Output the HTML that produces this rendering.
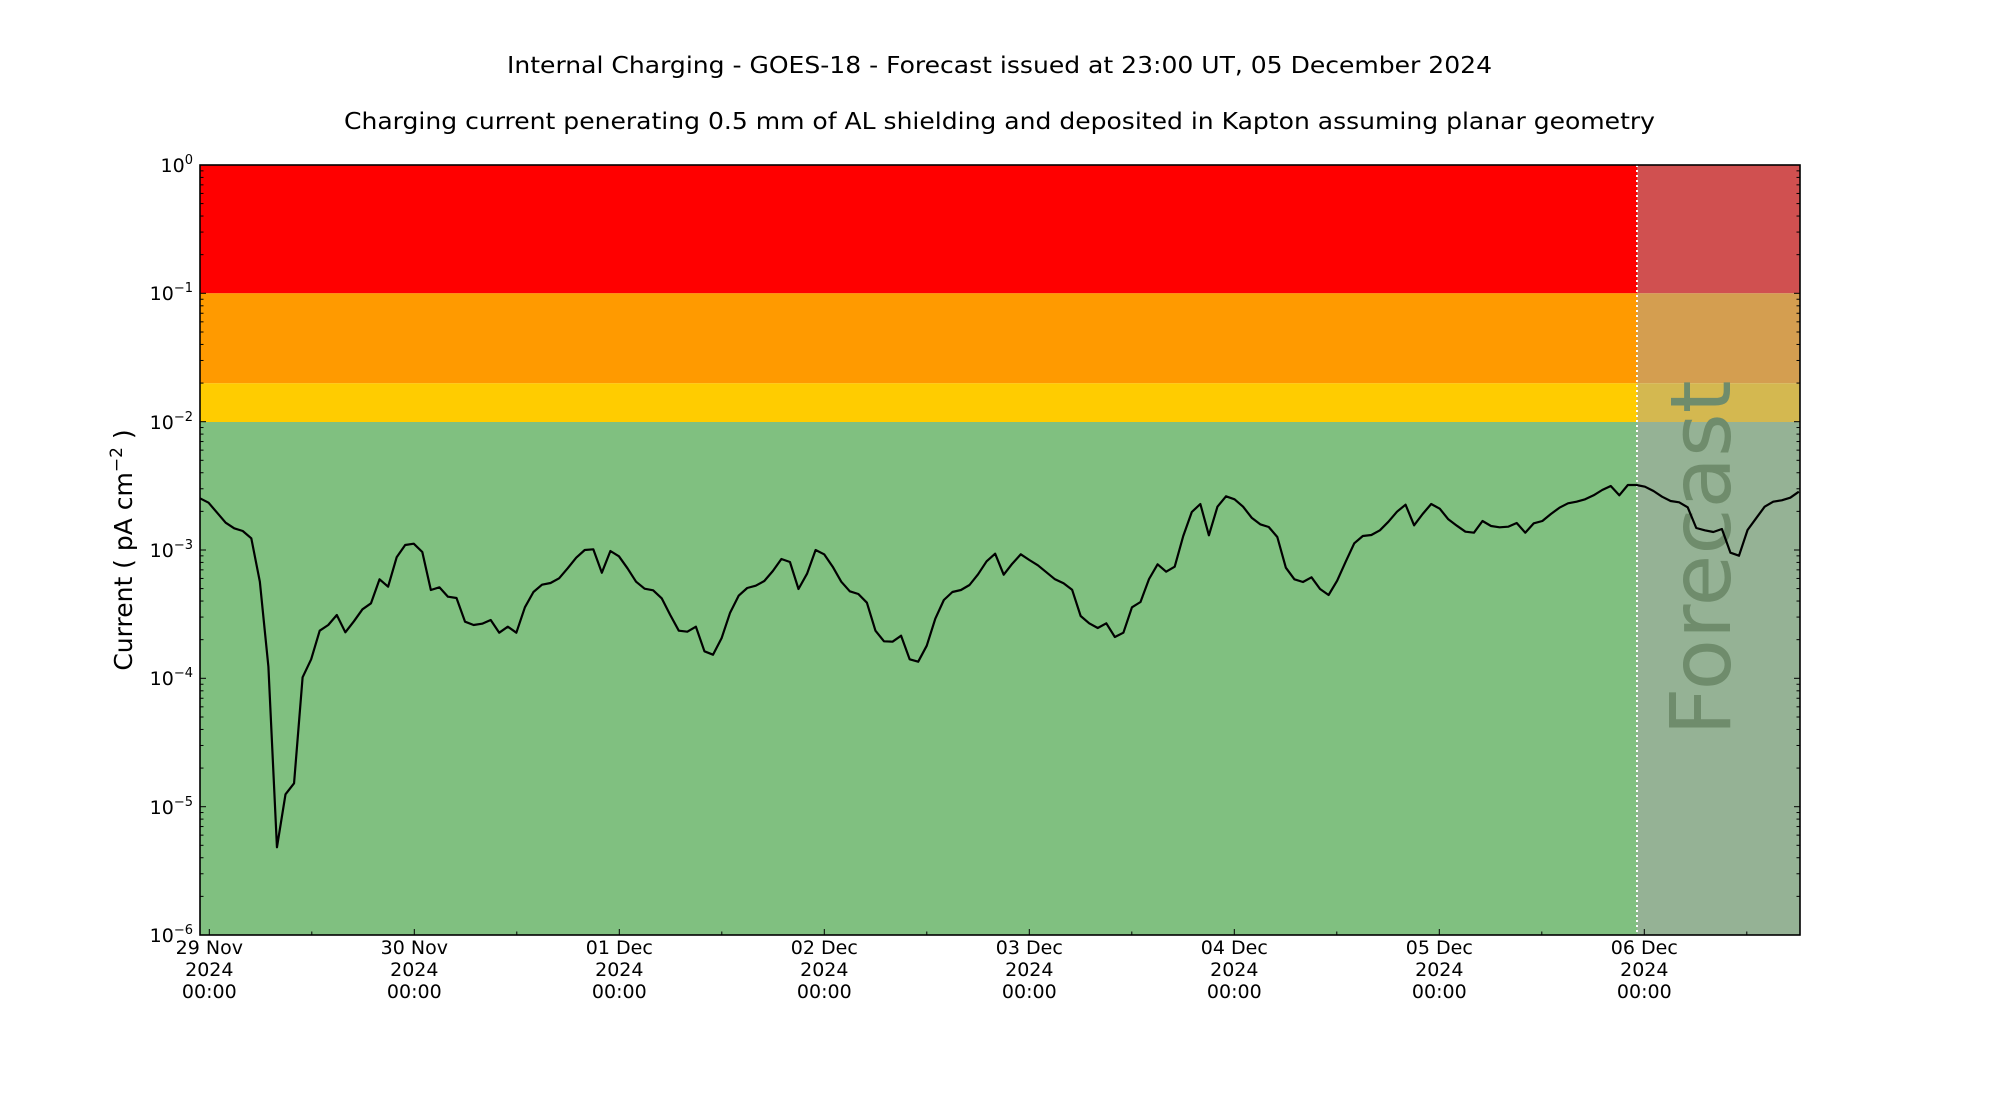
<!DOCTYPE html>
<html><head><meta charset="utf-8"><style>
html,body{margin:0;padding:0;background:#fff}
svg{display:block}
text{font-family:"DejaVu Sans","Liberation Sans",sans-serif;fill:#000}
</style></head><body>
<svg width="2000" height="1100" viewBox="0 0 2000 1100" xmlns="http://www.w3.org/2000/svg">
<rect width="2000" height="1100" fill="#fff"/>
<text x="507" y="73" font-size="23" textLength="985" lengthAdjust="spacingAndGlyphs">Internal Charging - GOES-18 - Forecast issued at 23:00 UT, 05 December 2024</text>
<text x="344" y="129" font-size="23" textLength="1311" lengthAdjust="spacingAndGlyphs">Charging current penerating 0.5 mm of AL shielding and deposited in Kapton assuming planar geometry</text>
<!-- bands -->
<rect x="200" y="165" width="1437" height="128.3" fill="#ff0000"/>
<rect x="200" y="293.3" width="1437" height="90" fill="#ff9a00"/>
<rect x="200" y="383.3" width="1437" height="38.7" fill="#ffcc00"/>
<rect x="200" y="422" width="1437" height="513" fill="#80c080"/>
<rect x="1637" y="165" width="163" height="128.3" fill="#d05050"/>
<rect x="1637" y="293.3" width="163" height="90" fill="#d49e50"/>
<rect x="1637" y="383.3" width="163" height="38.7" fill="#d4b850"/>
<rect x="1637" y="422" width="163" height="513" fill="#95b295"/>
<text transform="translate(1730,558) rotate(-90)" text-anchor="middle" font-size="84" style="fill:#6f8c6c">Forecast</text>
<line x1="1637" y1="165" x2="1637" y2="935" stroke="#fff" stroke-width="2" stroke-dasharray="2,3"/>
<!-- data -->
<polyline transform="translate(200,0) scale(8.55,1)" vector-effect="non-scaling-stroke" fill="none" stroke="#000" stroke-width="2.2" stroke-linejoin="round" points="
0,498.3 1,502.7 2,512.7 3,522.7 4,528.3 5,531 6,538.3 7,581.7 8,666.7 9,847.3 10,794.3 11,783.3 12,677.3 13,659.3 14,630.7 15,625 16,615 17,632.3 18,621.3 19,609.3 20,603.3 21,579.3 22,586.7 23,557.3 24,545 25,543.7 26,552 27,590 28,587.3 29,596.7 30,598 31,621.7 32,625 33,623.7 34,620 35,632.7 36,626.7 37,632.7 38,607.3 39,592 40,584.7 41,583 42,578.3 43,568.3 44,557.7 45,550 46,549.3 47,572.7 48,551 49,556.3
50,568.3 51,581.7 52,588.7 53,590.3 54,598.3 55,615 56,630.7 57,631.7 58,626.7 59,651.3 60,654.7 61,638.3 62,612.7 63,595.7 64,588 65,585.7 66,581 67,571 68,559 69,562 70,589 71,573.7 72,550 73,554.3 74,566.7 75,581.7 76,591.3 77,594 78,602.7 79,630.7 80,641.3 81,641.7 82,635.7 83,659.3 84,661.7 85,645.7 86,618.7 87,600 88,592 89,590 90,585 91,574.3 92,561.3 93,553.7 94,574.7 95,563.7
96,554.3 97,560 98,565.3 99,572.3 100,579.3 101,583.3 102,589.7 103,616 104,623.3 105,628 106,623.3 107,637 108,632.7 109,607.3 110,602 111,579 112,564.3 113,571.7 114,566.7 115,536 116,512 117,504 118,535.3 119,506.7 120,496.3 121,499.3 122,506.7 123,517.7 124,524.3 125,527 126,537 127,567.7 128,579.3 129,582 130,577.3 131,589 132,595 133,580.7 134,561.7 135,543.3 136,536 137,535 138,530.3 139,521.7 140,511.7 141,504.7 142,525.3
143,514 144,504 145,508.7 146,519.3 147,525.7 148,531.7 149,532.7 150,521 151,526 152,527.3 153,526.7 154,523 155,532.7 156,523.3 157,521 158,514 159,507.7 160,503.3 161,501.7 162,499.3 163,495.3 164,490 165,486 166,495.3 167,485 168,485 169,486.7 170,491 171,496.7 172,501 173,502.3 174,507.3 175,528 176,530.3 177,532 178,529 179,552.7 180,555.7 181,530 182,518.3 183,506.7 184,501.7 185,500.3 186,497.7 187,491.7"/>
<!-- ticks -->
<defs>
<g id="dec" stroke="#000" stroke-width="1">
<line x1="200" y1="0" x2="206" y2="0"/><line x1="1800" y1="0" x2="1794" y2="0"/>
<line x1="200" y1="-38.63" x2="203.5" y2="-38.63"/><line x1="200" y1="-61.23" x2="203.5" y2="-61.23"/><line x1="200" y1="-77.26" x2="203.5" y2="-77.26"/><line x1="200" y1="-89.7" x2="203.5" y2="-89.7"/><line x1="200" y1="-99.86" x2="203.5" y2="-99.86"/><line x1="200" y1="-108.45" x2="203.5" y2="-108.45"/><line x1="200" y1="-115.89" x2="203.5" y2="-115.89"/><line x1="200" y1="-122.45" x2="203.5" y2="-122.45"/>
<line x1="1800" y1="-38.63" x2="1796.5" y2="-38.63"/><line x1="1800" y1="-61.23" x2="1796.5" y2="-61.23"/><line x1="1800" y1="-77.26" x2="1796.5" y2="-77.26"/><line x1="1800" y1="-89.7" x2="1796.5" y2="-89.7"/><line x1="1800" y1="-99.86" x2="1796.5" y2="-99.86"/><line x1="1800" y1="-108.45" x2="1796.5" y2="-108.45"/><line x1="1800" y1="-115.89" x2="1796.5" y2="-115.89"/><line x1="1800" y1="-122.45" x2="1796.5" y2="-122.45"/>
</g>
</defs>
<use href="#dec" transform="translate(0,293.3)"/>
<use href="#dec" transform="translate(0,421.7)"/>
<use href="#dec" transform="translate(0,550)"/>
<use href="#dec" transform="translate(0,678.3)"/>
<use href="#dec" transform="translate(0,806.7)"/>
<use href="#dec" transform="translate(0,935)"/>
<g stroke="#000" stroke-width="1">
<line x1="200" y1="165" x2="206" y2="165"/><line x1="1800" y1="165" x2="1794" y2="165"/>
<line x1="209.3" y1="935" x2="209.3" y2="929"/><line x1="414.3" y1="935" x2="414.3" y2="929"/><line x1="619.3" y1="935" x2="619.3" y2="929"/><line x1="824.3" y1="935" x2="824.3" y2="929"/><line x1="1029.3" y1="935" x2="1029.3" y2="929"/><line x1="1234.3" y1="935" x2="1234.3" y2="929"/><line x1="1439.3" y1="935" x2="1439.3" y2="929"/><line x1="1644.3" y1="935" x2="1644.3" y2="929"/>
<line x1="311.8" y1="935" x2="311.8" y2="931.5"/><line x1="516.8" y1="935" x2="516.8" y2="931.5"/><line x1="721.8" y1="935" x2="721.8" y2="931.5"/><line x1="926.8" y1="935" x2="926.8" y2="931.5"/><line x1="1131.8" y1="935" x2="1131.8" y2="931.5"/><line x1="1336.8" y1="935" x2="1336.8" y2="931.5"/><line x1="1541.8" y1="935" x2="1541.8" y2="931.5"/><line x1="1746.8" y1="935" x2="1746.8" y2="931.5"/>
</g>
<rect x="200" y="165" width="1600" height="770" fill="none" stroke="#000" stroke-width="1.6"/>
<!-- y tick labels -->
<g font-size="19" text-anchor="end">
<text x="193" y="172">10<tspan font-size="13" dy="-8">0</tspan></text>
<text x="193" y="300">10<tspan font-size="13" dy="-8">−1</tspan></text>
<text x="193" y="429">10<tspan font-size="13" dy="-8">−2</tspan></text>
<text x="193" y="557">10<tspan font-size="13" dy="-8">−3</tspan></text>
<text x="193" y="685">10<tspan font-size="13" dy="-8">−4</tspan></text>
<text x="193" y="814">10<tspan font-size="13" dy="-8">−5</tspan></text>
<text x="193" y="942">10<tspan font-size="13" dy="-8">−6</tspan></text>
</g>
<text transform="translate(132,550) rotate(-90)" text-anchor="middle" font-size="25">Current ( pA cm<tspan font-size="17" dy="-10">−2</tspan><tspan dy="10"> )</tspan></text>
<!-- x tick labels -->
<g font-size="19" text-anchor="middle">
<text x="209.3" y="954">29 Nov</text><text x="209.3" y="976">2024</text><text x="209.3" y="998">00:00</text>
<text x="414.3" y="954">30 Nov</text><text x="414.3" y="976">2024</text><text x="414.3" y="998">00:00</text>
<text x="619.3" y="954">01 Dec</text><text x="619.3" y="976">2024</text><text x="619.3" y="998">00:00</text>
<text x="824.3" y="954">02 Dec</text><text x="824.3" y="976">2024</text><text x="824.3" y="998">00:00</text>
<text x="1029.3" y="954">03 Dec</text><text x="1029.3" y="976">2024</text><text x="1029.3" y="998">00:00</text>
<text x="1234.3" y="954">04 Dec</text><text x="1234.3" y="976">2024</text><text x="1234.3" y="998">00:00</text>
<text x="1439.3" y="954">05 Dec</text><text x="1439.3" y="976">2024</text><text x="1439.3" y="998">00:00</text>
<text x="1644.3" y="954">06 Dec</text><text x="1644.3" y="976">2024</text><text x="1644.3" y="998">00:00</text>
</g>
</svg>
</body></html>
